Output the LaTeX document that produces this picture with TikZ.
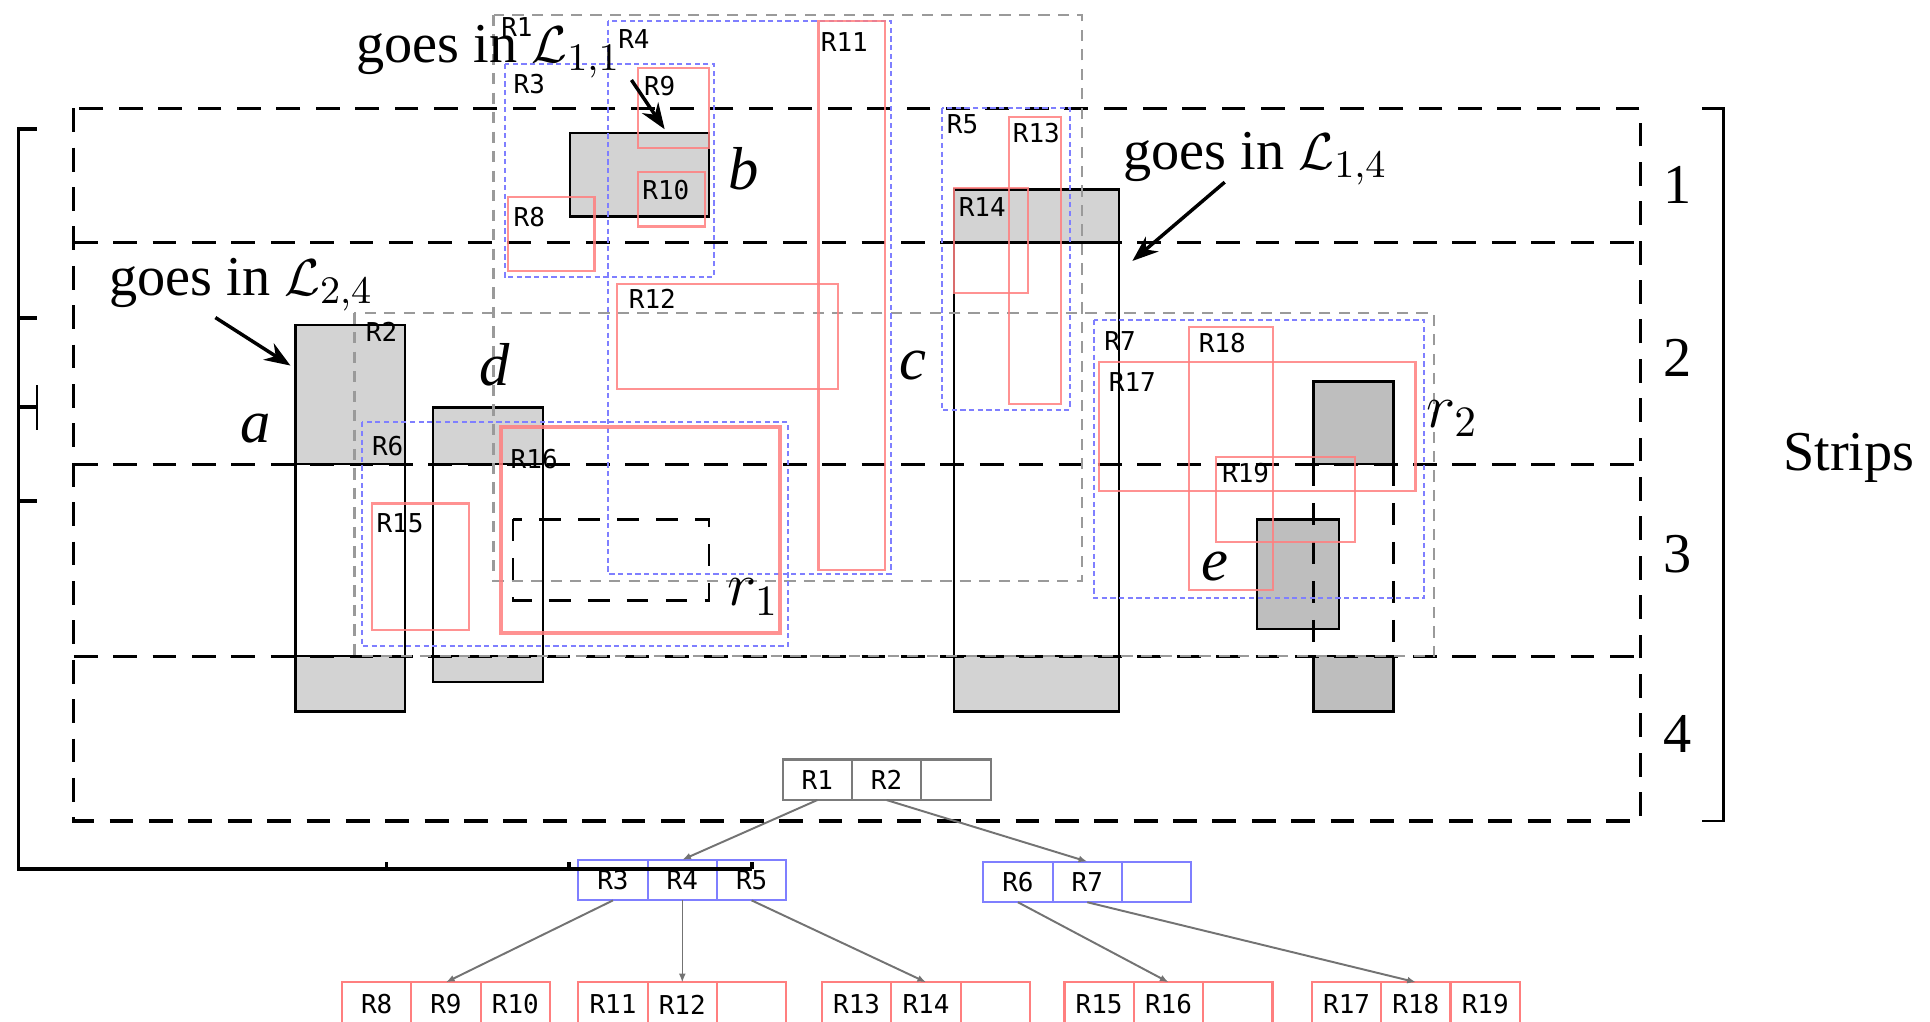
\documentclass[tikz,border=0pt]{standalone}
\usepackage{fontspec}
\setmainfont{Liberation Serif}
\newfontfamily\rlabfont{DejaVu Sans Mono}
\usetikzlibrary{arrows.meta,positioning}
\definecolor{MBRgray}{HTML}{9A9A9A}
\definecolor{MBRblue}{HTML}{7F7FFF}
\definecolor{MBRred}{HTML}{FF7F7F}
\definecolor{OBJgray}{HTML}{D3D3D3}
\definecolor{OBJdark}{HTML}{BEBEBE}
\tikzset{striprule/.style={line width=0.7pt,dash pattern=on 5.5pt off 3.6pt},
 objline/.style={draw=black,line width=0.55pt},
 objfill/.style={fill=OBJgray},
 rootbox/.style={draw=MBRgray,line width=0.5pt,dash pattern=on 2.6pt off 1.9pt},
 innerbox/.style={draw=MBRblue,line width=0.45pt,dash pattern=on 1.2pt off 0.8pt},
 leafbox/.style={draw=MBRred,line width=0.5pt,draw opacity=0.85},
 rlab/.style={font=\rlabfont\fontsize{6}{7}\selectfont,inner sep=0pt},
 bigtxt/.style={font=\fontsize{13}{15}\selectfont,inner sep=0pt},
 objlab/.style={font=\fontsize{14}{16}\selectfont\itshape,inner sep=0pt},
 goesarr/.style={-{Stealth[length=6pt,width=4.5pt]},line width=0.8pt},
 cell/.style={draw,line width=0.5pt,minimum width=0.563cm,minimum height=0.33cm,
 inner sep=0pt,outer sep=0pt,font=\rlabfont\fontsize{6}{7}\selectfont},
 rootcell/.style={cell,draw=MBRgray!80!black},
 innercell/.style={cell,draw=MBRblue},
 leafcell/.style={cell,draw=MBRred,minimum height=0.36cm},
 treearr/.style={-{Latex[length=2pt,width=1.6pt]},draw=black!55,line width=0.45pt},
 axisrule/.style={line width=0.9pt}}

\begin{document}
\begin{tikzpicture}[x=0.01cm,y=-0.01cm,node distance=0pt]
\useasboundingbox (0,0) rectangle (1568,830);
% objects a--e
\fill[objfill] (240,264) rectangle (329,377) (240,533) rectangle (329,578);
\draw[objline] (240,264) rectangle (329,578) (240,377) -- (329,377) (240,533) -- (329,533);
\fill[objfill] (352,331) rectangle (441,377) (352,533) rectangle (441,554);
\draw[objline] (352,331) rectangle (441,554) (352,377) -- (441,377) (352,533) -- (441,533);
\draw[objline,objfill] (463,108) rectangle (576,176);
\fill[objfill] (775,154) rectangle (909,197) (775,533) rectangle (909,578);
\draw[objline] (775,154) rectangle (909,578) (775,197) -- (909,197) (775,533) -- (909,533);
\draw[objline,fill=OBJdark] (1067,310) rectangle (1132,377);
\draw[objline,fill=OBJdark] (1067,533) rectangle (1132,578);
\draw[objline,fill=OBJdark] (1021,422) rectangle (1088,511);
\draw[objline,dash pattern=on 5pt off 4pt] (1067,377) -- (1067,533) (1132,377) -- (1132,533);
% query rectangle
\draw[objline,dash pattern=on 5pt off 4pt] (417,422) rectangle (576,488);

% strips
\draw[striprule] (60,88) rectangle (1333,667);
\foreach \y in {197,377,533}
 \draw[striprule] (60,\y) -- (1333,\y);
\node[bigtxt] (s1) at (1363,150) {1};
\node[bigtxt] (s2) at (1363,291) {2};
\node[bigtxt] (s3) at (1363,450) {3};
\node[bigtxt] (s4) at (1363,596) {4};
\draw[line width=0.6pt] (1383,88) -- (1400,88) -- (1400,667) -- (1383,667);
\node[bigtxt] (strips) at (1502,372) {Strips};

% MBRs of the R-tree
\draw[rootbox] (401,12) rectangle (879,472);
\draw[rootbox] (288,254) rectangle (1165,533);
\draw[innerbox] (410,52) rectangle (580,225);
\draw[innerbox] (494,17) rectangle (724,466);
\draw[innerbox] (765,88) rectangle (869,333);
\draw[innerbox] (294,343) rectangle (640,525);
\draw[innerbox] (889,260) rectangle (1157,486);
\draw[leafbox] (413,160) rectangle (483,220);
\draw[leafbox] (518,55) rectangle (576,120);
\draw[leafbox] (518,140) rectangle (573,184);
\draw[leafbox] (665,17) rectangle (719,463);
\draw[leafbox] (501,231) rectangle (681,316);
\draw[leafbox] (820,95) rectangle (862,328);
\draw[leafbox] (775,153) rectangle (835,238);
\draw[leafbox] (302,409) rectangle (381,512);
\draw[leafbox,line width=0.9pt] (407,347) rectangle (634,514);
\draw[leafbox] (893,294) rectangle (1150,399);
\draw[leafbox] (966,266) rectangle (1034,479);
\draw[leafbox] (988,371) rectangle (1101,440);
\node[rlab] (lR1) at (420,22) {R1};
\node[rlab] (lR2) at (310,270) {R2};
\node[rlab] (lR3) at (430,68) {R3};
\node[rlab] (lR4) at (515,32) {R4};
\node[rlab] (lR5) at (782,101) {R5};
\node[rlab] (lR6) at (315,362) {R6};
\node[rlab] (lR7) at (910,277) {R7};
\node[rlab] (lR8) at (430,176) {R8};
\node[rlab] (lR9) at (536,70) {R9};
\node[rlab] (lR10) at (541,154) {R10};
\node[rlab] (lR11) at (686,34) {R11};
\node[rlab] (lR12) at (530,243) {R12};
\node[rlab] (lR13) at (842,108) {R13};
\node[rlab] (lR14) at (798,168) {R14};
\node[rlab] (lR15) at (325,425) {R15};
\node[rlab] (lR16) at (434,373) {R16};
\node[rlab] (lR17) at (920,310) {R17};
\node[rlab] (lR18) at (993,279) {R18};
\node[rlab] (lR19) at (1012,384) {R19};

% object and query labels
\node[objlab] (la) at (208,348) {a};
\node[objlab] (lb) at (604,137) {b};
\node[objlab] (lc) at (742,297) {c};
\node[objlab] (ld) at (402,296) {d};
\node[objlab] (le) at (987,460) {e};
\node[objlab] (lq1) at (612,485) {$r_1$};
\node[objlab] (lq2) at (1180,340) {$r_2$};

% which list an object goes in
\node[bigtxt] (g24) at (196,231) {goes in $\mathcal{L}_{2,4}$};
\node[bigtxt] (g11) at (397,42) {goes in $\mathcal{L}_{1,1}$};
\node[bigtxt] (g14) at (1020,129) {goes in $\mathcal{L}_{1,4}$};
\coordinate (tail24) at (175,258);
\coordinate (tip24) at (236,297);
\coordinate (tail11) at (513,65);
\coordinate (tip11) at (540,105);
\coordinate (tail14) at (995,148);
\coordinate (tip14) at (920,212);
\draw[goesarr] (tail24) -- (tip24);
\draw[goesarr] (tail11) -- (tip11);
\draw[goesarr] (tail14) -- (tip14);

% the R-tree
\node[rootcell] (root1) at (664,633.5) {R1};
\node[rootcell,right=of root1] (root2) {R2};
\node[rootcell,right=of root2] (root3) {};
\node[innercell] (inA1) at (498,715) {R3};
\node[innercell,right=of inA1] (inA2) {R4};
\node[innercell,right=of inA2] (inA3) {R5};
\node[innercell] (inB1) at (827,716.5) {R6};
\node[innercell,right=of inB1] (inB2) {R7};
\node[innercell,right=of inB2] (inB3) {};
\node[leafcell] (lfA1) at (306,816) {R8};
\node[leafcell,right=of lfA1] (lfA2) {R9};
\node[leafcell,right=of lfA2] (lfA3) {R10};
\node[leafcell] (lfB1) at (498,816) {R11};
\node[leafcell,right=of lfB1] (lfB2) {R12};
\node[leafcell,right=of lfB2] (lfB3) {};
\node[leafcell] (lfC1) at (696,816) {R13};
\node[leafcell,right=of lfC1] (lfC2) {R14};
\node[leafcell,right=of lfC2] (lfC3) {};
\node[leafcell] (lfD1) at (893,816) {R15};
\node[leafcell,right=of lfD1] (lfD2) {R16};
\node[leafcell,right=of lfD2] (lfD3) {};
\node[leafcell] (lfE1) at (1094,816) {R17};
\node[leafcell,right=of lfE1] (lfE2) {R18};
\node[leafcell,right=of lfE2] (lfE3) {R19};
\draw[treearr] (root1.south) -- (inA2.north);
\draw[treearr] (root2.south) -- (inB2.north);
\draw[treearr] (inA1.south) -- (lfA2.north);
\draw[treearr,line width=0.3pt] (inA2.south) -- (lfB2.north);
\draw[treearr] (inA3.south) -- (lfC2.north);
\draw[treearr] (inB1.south) -- (lfD2.north);
\draw[treearr] (inB2.south) -- (lfE2.north);

% left axis
\draw[axisrule] (30,105) -- (15,105) -- (15,706) -- (611,706);
\foreach \y in {258,331,407}
 \draw[axisrule] (15,\y) -- (30,\y);
\draw[line width=0.3pt] (30,313) -- (30,349);
\foreach \x in {314,462,611}
 \draw[axisrule] (\x,706) -- (\x,700);
\end{tikzpicture}
\end{document}
